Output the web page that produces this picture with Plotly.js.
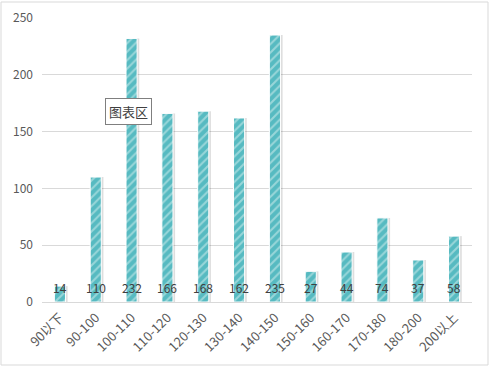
<!DOCTYPE html>
<html><head><meta charset="utf-8">
<script src="https://cdn.plot.ly/plotly-3.0.1.min.js"></script>
<style>body{margin:0;padding:0;background:#fff}#c{width:492px;height:369px}</style>
</head><body><div id="c"></div>
<script>
const categories = ["90以下","90-100","100-110","110-120","120-130","130-140","140-150","150-160","160-170","170-180","180-200","200以上"];
const values = [14,110,232,166,168,162,235,27,44,74,37,58];
const yTicks = [0,50,100,150,200,250];

const font = "'Noto Sans CJK SC', 'Microsoft YaHei', sans-serif";
const bw = 0.31;

const shadow = {
  type: 'bar', x: categories, y: values, width: bw, offset: -bw/2 + 0.06,
  marker: {color: 'rgba(0,0,0,0.13)', line: {width: 0}},
  hoverinfo: 'none'
};

const bar = {
  type: 'bar', x: categories, y: values, width: bw, offset: -bw/2,
  marker: {
    color: '#5BBDC3',
    line: {color: '#ffffff', width: 1},
    pattern: {shape: '/', bgcolor: '#56BAC1', fgcolor: '#98D6D9', size: 6, solidity: 0.35, fillmode: 'replace'}
  },
  hoverinfo: 'none'
};

const labels = categories.map((c, i) => ({
  x: c, y: 0, xref: 'x', yref: 'y', text: String(values[i]), showarrow: false,
  yanchor: 'bottom', yshift: 4, font: {family: font, size: 12, color: '#404040'}
}));

labels.push({
  xref: 'paper', yref: 'paper', x: (105-42)/430, y: (302-98)/284, xanchor: 'left', yanchor: 'top',
  text: '图表区', showarrow: false, bgcolor: '#ffffff', bordercolor: '#7f7f7f', borderwidth: 1, borderpad: 3,
  font: {family: font, size: 13, color: '#404040'}
});

const layout = {
  width: 492, height: 369,
  margin: {l: 42, r: 20, t: 18, b: 67},
  paper_bgcolor: '#ffffff', plot_bgcolor: '#ffffff',
  showlegend: false,
  barmode: 'overlay',
  font: {family: font, size: 12, color: '#595959'},
  xaxis: {
    type: 'category', tickangle: -45, showgrid: false, zeroline: false,
    showline: true, linecolor: '#d9d9d9', linewidth: 1, ticks: '', ticklabelstandoff: 2,
    tickfont: {family: font, size: 13, color: '#595959'}
  },
  yaxis: {
    range: [0, 250], tickvals: yTicks, showgrid: true, gridcolor: '#d9d9d9', gridwidth: 1,
    zeroline: false, showline: false, ticks: '', ticklabelstandoff: 8,
    tickfont: {family: font, size: 12, color: '#595959'}
  },
  annotations: labels,
  shapes: [{
    type: 'rect', xref: 'paper', yref: 'paper',
    x0: (1-42)/430, x1: (488-42)/430, y0: (302-365)/284, y1: (302-2)/284,
    line: {color: '#d9d9d9', width: 1}, fillcolor: 'rgba(0,0,0,0)', layer: 'below'
  }]
};

Plotly.newPlot('c', [shadow, bar], layout, {displayModeBar: false, staticPlot: true});
</script></body></html>
